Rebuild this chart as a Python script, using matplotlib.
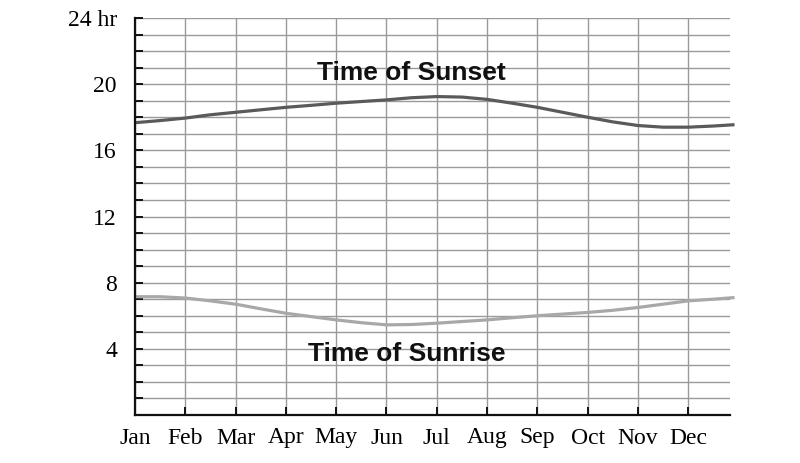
import numpy as np
import matplotlib.pyplot as plt

months = ["Jan", "Feb", "Mar", "Apr", "May", "Jun", "Jul", "Aug", "Sep", "Oct", "Nov", "Dec"]
# readings at half-month steps (month index), hours of the day
x_pts = [0, 0.5, 1, 1.5, 2, 2.5, 3, 3.5, 4, 4.5, 5, 5.5, 6, 6.5, 7, 7.5, 8, 8.5, 9, 9.5,
         10, 10.5, 11, 11.5, 11.92]
sunset = [17.67, 17.8, 17.95, 18.15, 18.3, 18.45, 18.6, 18.72, 18.85, 18.95, 19.05, 19.18,
          19.25, 19.22, 19.08, 18.85, 18.6, 18.3, 18.0, 17.72, 17.5, 17.4, 17.4, 17.47, 17.55]
sunrise = [7.15, 7.15, 7.07, 6.9, 6.7, 6.42, 6.15, 5.95, 5.75, 5.58, 5.45, 5.47,
           5.55, 5.65, 5.75, 5.88, 6.0, 6.1, 6.2, 6.33, 6.5, 6.7, 6.9, 7.0, 7.1]
y_labels = {4: "4", 8: "8", 12: "12", 16: "16", 20: "20", 24: "24 hr"}

serif = ["Liberation Serif", "DejaVu Serif"]
bold_sans = ["Liberation Sans", "DejaVu Sans"]

fig = plt.figure(figsize=(8, 4.63), dpi=100)
ax = fig.add_axes([135 / 800, 48 / 463, 595 / 800, 397 / 463])

ax.set_xlim(0, 11.83)
ax.set_ylim(0, 24)

# grid
ax.set_xticks(range(12))
ax.set_yticks(range(25))
ax.grid(True, color="#9a9a9a", linewidth=1.0)
ax.set_axisbelow(True)

for s in ["top", "right"]:
    ax.spines[s].set_visible(False)
for s in ["left", "bottom"]:
    ax.spines[s].set_linewidth(1.6)
    ax.spines[s].set_color("#111111")

ax.tick_params(axis="both", direction="in", length=6, width=1.4, color="#111111")
ax.set_xticklabels(months, fontsize=17, family=serif)
ax.tick_params(axis="x", pad=9)
ax.set_yticklabels([y_labels.get(v, "") for v in range(25)], fontsize=17, family=serif)
ax.tick_params(axis="y", pad=13)

ax.plot(x_pts, sunset, color="#5a5a5a", linewidth=2.3, clip_on=False, solid_capstyle="butt")
ax.plot(x_pts, sunrise, color="#a8a8a8", linewidth=2.3, clip_on=False, solid_capstyle="butt")

ax.text(5.5, 20.7, "Time of Sunset", ha="center", va="center", fontsize=19,
        fontweight="bold", family=bold_sans, color="#111111")
ax.text(5.4, 3.7, "Time of Sunrise", ha="center", va="center", fontsize=19,
        fontweight="bold", family=bold_sans, color="#111111")

fig.savefig("out.png", dpi=100)
